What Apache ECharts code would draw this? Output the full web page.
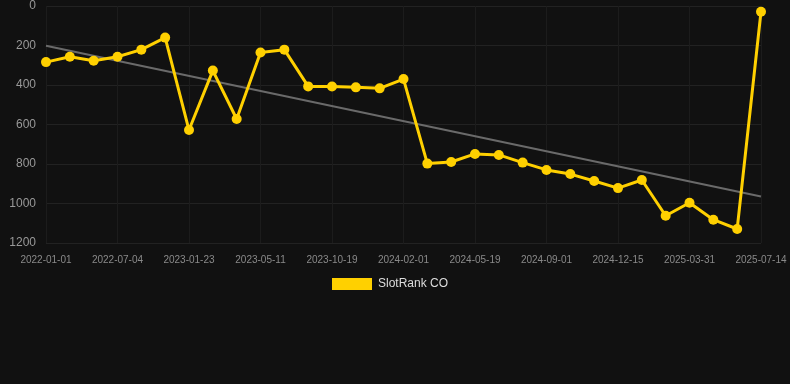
<!DOCTYPE html>
<html><head><meta charset="utf-8">
<script src="https://cdn.jsdelivr.net/npm/echarts@6/dist/echarts.min.js"></script>
<style>html,body{margin:0;padding:0;background:#111111;}#c{width:790px;height:384px;}</style>
</head><body><div id="c"></div>
<script>
var dates = ['2022-01-01','2022-03-03','2022-05-03','2022-07-04','2022-09-10','2022-11-17','2023-01-23','2023-02-28','2023-04-05','2023-05-11','2023-07-06','2023-08-31','2023-10-19','2023-11-23','2023-12-28','2024-02-01','2024-03-07','2024-04-13','2024-05-19','2024-06-23','2024-07-28','2024-09-01','2024-10-05','2024-11-10','2024-12-15','2025-01-20','2025-02-24','2025-03-31','2025-05-05','2025-06-09','2025-07-14'];
var rankCO = [284,257,277,257,221,160,628,327,572,235,221,407,408,412,417,370,798,790,749,754,793,830,851,886,922,881,1062,996,1082,1129,29];
var trendStart = 201, trendEnd = 965;
var yTicks = [0,200,400,600,800,1000,1200];

var trend = dates.map(function(d,i){ return i===0 ? trendStart : (i===dates.length-1 ? trendEnd : null); });

var chart = echarts.init(document.getElementById('c'));
chart.setOption({
  backgroundColor: '#111111',
  animation: false,
  grid: {left: 46, right: 29, top: 6, bottom: 141, containLabel: false},
  legend: {
    data: [{name: 'SlotRank CO', icon: 'rect'}],
    left: 327, top: 273, itemWidth: 40, itemHeight: 12, itemGap: 6,
    textStyle: {color: '#dddddd', fontSize: 12, fontFamily: 'Liberation Sans, Arial, sans-serif', padding: [0,0,0,1]}
  },
  xAxis: {
    type: 'category', data: dates, boundaryGap: false,
    axisLine: {show: false}, axisTick: {show: false},
    axisLabel: {interval: 2, color: '#8a8a8a', fontSize: 10, margin: 12, fontFamily: 'Liberation Sans, Arial, sans-serif'},
    splitLine: {show: true, interval: 2, lineStyle: {color: '#1c1c1c', width: 1}}
  },
  yAxis: {
    type: 'value', inverse: true, min: yTicks[0], max: yTicks[yTicks.length-1], interval: 200,
    axisLine: {show: false}, axisTick: {show: false},
    axisLabel: {color: '#999999', fontSize: 12, margin: 10, fontFamily: 'Liberation Sans, Arial, sans-serif',
      formatter: function(v){ return String(v); }},
    splitLine: {show: true, lineStyle: {color: '#222222', width: 1}}
  },
  series: [
    {
      name: 'SlotRank CO', type: 'line', data: rankCO,
      symbol: 'circle', symbolSize: 10, showAllSymbol: true,
      lineStyle: {color: '#ffd000', width: 3},
      itemStyle: {color: '#ffd000'},
      z: 3
    },
    {
      name: 'Trend', type: 'line', data: trend, connectNulls: true,
      symbol: 'none', lineStyle: {color: '#6a6a6a', width: 2},
      itemStyle: {color: '#6a6a6a'}, z: 2
    }
  ]
});
</script></body></html>
